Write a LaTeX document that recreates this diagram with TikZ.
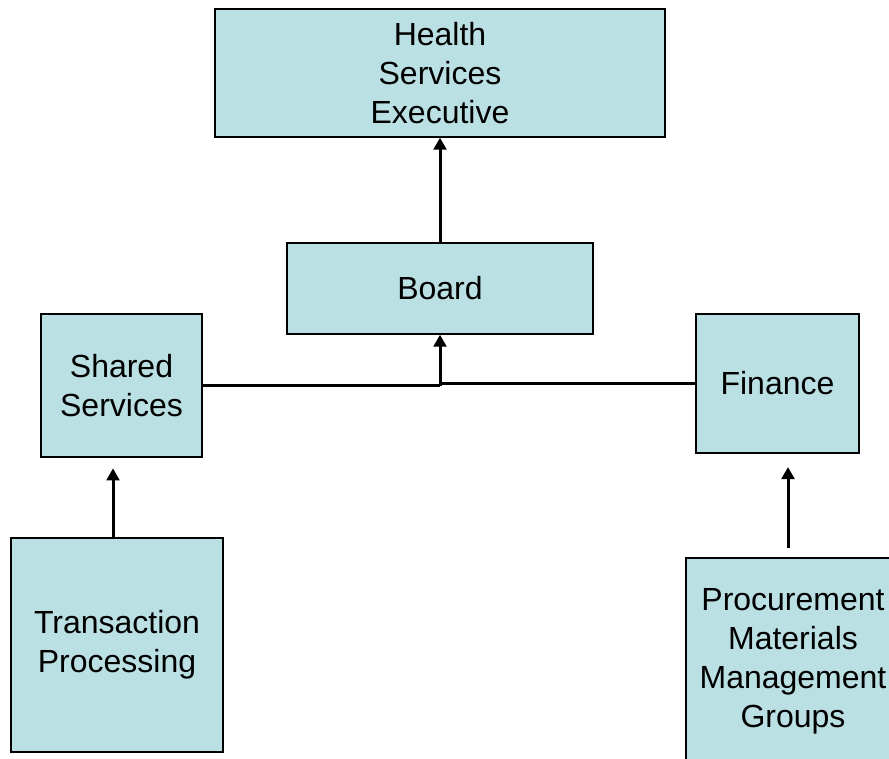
\documentclass[tikz,border=0pt]{standalone}
\usepackage{fontspec}
\setmainfont{Liberation Sans}
\usetikzlibrary{arrows.meta}

\definecolor{boxblue}{HTML}{BBE0E3}

\begin{document}
\begin{tikzpicture}[x=0.75pt, y=-0.75pt, >={Triangle[length=9pt,width=9.5pt]}]
    \clip (0, 0) rectangle (889, 758);
    \useasboundingbox (0, 0) rectangle (889, 758);
    \begin{scope}[all/.style={draw,fill=boxblue,line width=1pt,align=center,inner sep=0pt,font=\fontsize{24}{29.25}\selectfont}]
        \node[all, minimum width=337.5pt, minimum height=96pt] (b0) at (440, 73) {Health\\Services\\Executive};
        \node[all, minimum width=229.5pt, minimum height=68.25pt] (b1) at (440, 288.5) {Board};
        \node[all, minimum width=120.75pt, minimum height=107.25pt] (b2) at (121.5, 385.5) {Shared\\Services};
        \node[all, minimum width=122.25pt, minimum height=104.25pt] (b3) at (777.5, 383.5) {Finance};
        \node[all, minimum width=159pt, minimum height=160.5pt] (b4) at (117, 645) {Transaction\\Processing};
        \node[all, minimum width=160.5pt, minimum height=154.5pt] (b5) at (793, 661) {Procurement\\Materials\\Management\\Groups};
        \coordinate (j1) at (b2.east -| b1.south);
        \begin{scope}[line width=2.25pt]
        \path[->] (b1) edge (b0) ;
        \path[-] (b2.east) edge (j1) ;
        \path[->] (j1) edge (b1.south) ;
        \path[-, line width=1.6pt] (b3.west) edge (b3.west -| b1.south) ;
        \path[->] ([xshift=-3pt]b4.north) edge[shorten >=8pt] ([xshift=-3pt]b4.north |- b2.south) ;
        \path[->] ([xshift=-3.75pt]b5.north) edge[shorten <=6.75pt, shorten >=10pt] ([xshift=-3.75pt]b5.north |- b3.south) ;
        \end{scope}
    \end{scope}
\end{tikzpicture}
\end{document}
